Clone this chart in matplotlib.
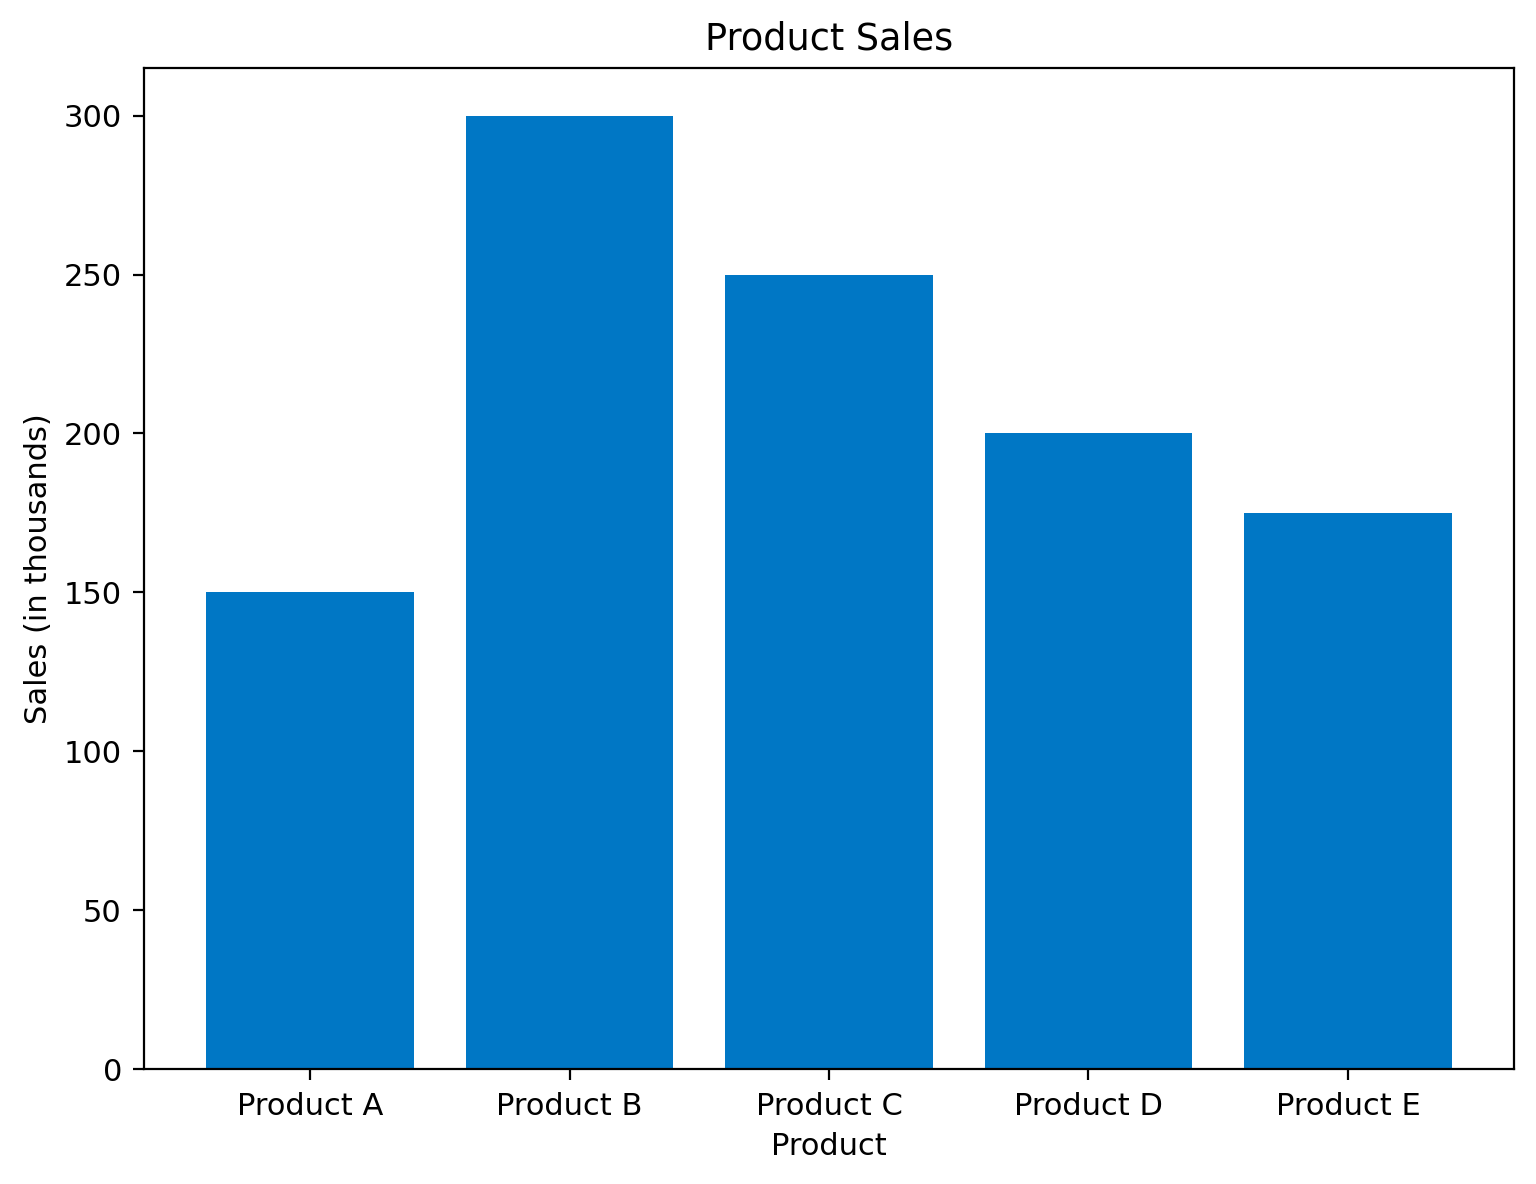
import matplotlib
matplotlib.use("Agg")
import matplotlib.pyplot as plt

products = ["Product A", "Product B", "Product C", "Product D", "Product E"]
sales = [150, 300, 250, 200, 175]

plt.rcParams["font.size"] = 11
plt.rcParams["xtick.major.pad"] = 4.3
plt.rcParams["ytick.major.pad"] = 4.1
plt.rcParams["xtick.major.size"] = 3.85
plt.rcParams["ytick.major.size"] = 3.85

fig, ax = plt.subplots(figsize=(7.68, 5.92), dpi=200)
fig.subplots_adjust(left=0.09375, right=0.9857, top=0.9426, bottom=0.0971)

ax.bar(products, sales, color="#0077c5")
ax.set_title("Product Sales", pad=6.6)
ax.set_xlabel("Product")
ax.set_ylabel("Sales (in thousands)")

fig.savefig("out.png", dpi=200)
